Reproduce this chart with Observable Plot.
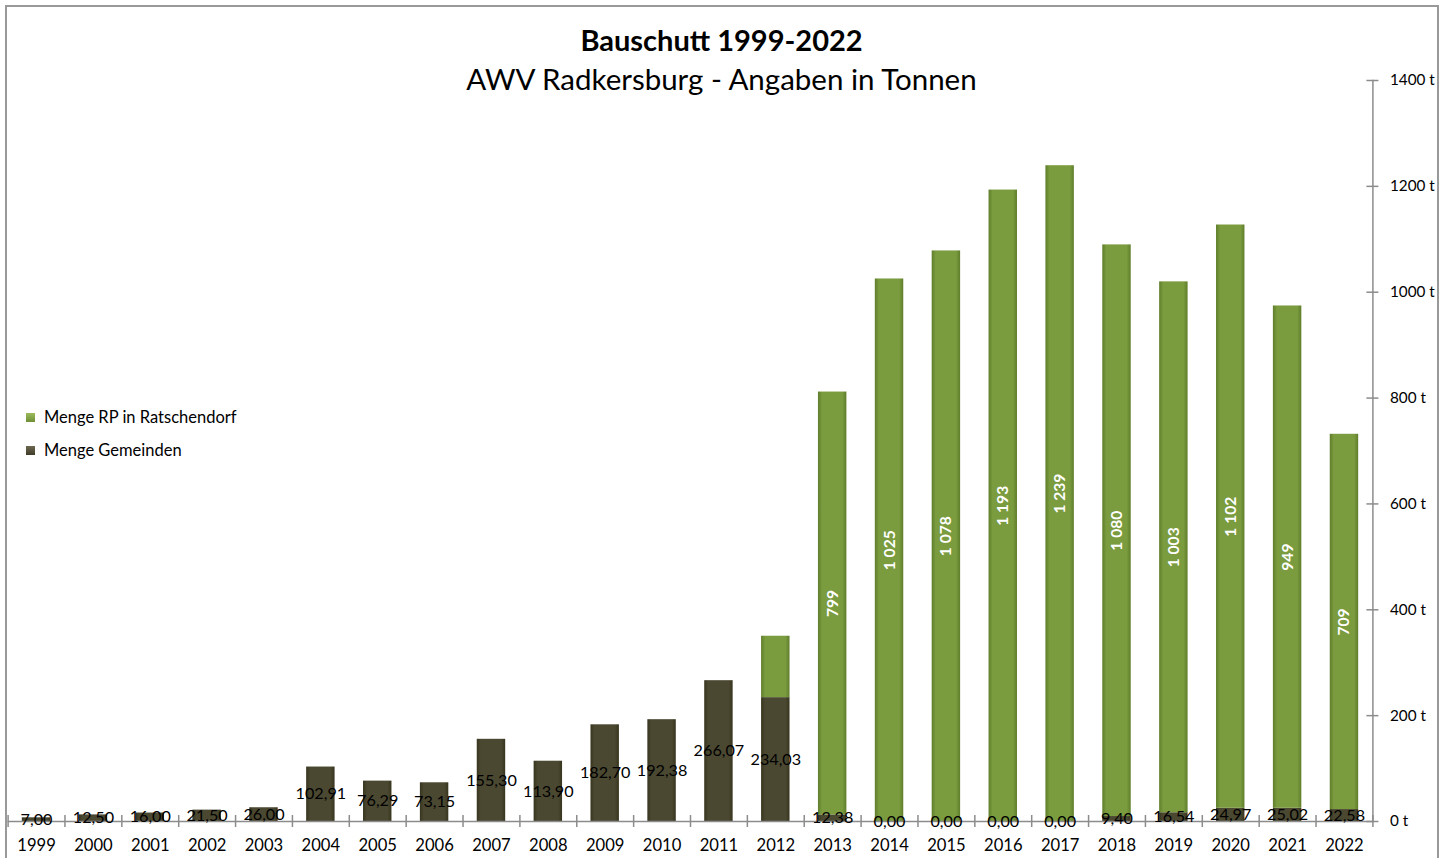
<!DOCTYPE html>
<html><head><meta charset="utf-8">
<script src="https://cdn.jsdelivr.net/npm/d3@7"></script>
<script src="https://cdn.jsdelivr.net/npm/@observablehq/plot@0.6"></script>
<style>
body{margin:0;background:#fff;font-family:Lato,sans-serif;overflow:hidden;}
#frame{position:absolute;left:5px;top:5px;width:1434px;height:880px;border:2px solid #999;box-sizing:border-box;}
#title{position:absolute;left:0;width:1443px;top:22px;text-align:center;font-weight:bold;font-size:29px;color:#000;line-height:36px;}
#subtitle{position:absolute;left:0;width:1443px;top:61px;text-align:center;font-size:29.5px;color:#000;line-height:36px;}
#legend{position:absolute;left:26px;top:406px;font-size:16.5px;color:#000;}
.li{display:flex;align-items:center;}
.sw{width:9px;height:9px;margin-right:9px;}
#chart{position:absolute;left:0;top:0;}
</style></head>
<body>
<div id="frame"></div>
<div id="chart"></div>
<div id="title">Bauschutt 1999-2022</div>
<div id="subtitle">AWV Radkersburg - Angaben in Tonnen</div>
<div id="legend">
  <div class="li" style="height:22px"><div class="sw" style="background:linear-gradient(#9dbb5c,#6f8f36)"></div>Menge RP in Ratschendorf</div>
  <div class="li" style="height:44px"><div class="sw" style="background:linear-gradient(#6d6850,#3f3c28)"></div>Menge Gemeinden</div>
</div>
<script>
const years = [1999,2000,2001,2002,2003,2004,2005,2006,2007,2008,2009,2010,2011,2012,2013,2014,2015,2016,2017,2018,2019,2020,2021,2022];
const gemeinden = [7.00,12.50,16.00,21.50,26.00,102.91,76.29,73.15,155.30,113.90,182.70,192.38,266.07,234.03,12.38,0,0,0,0,9.40,16.54,24.97,25.02,22.58];
const ratschendorf = [0,0,0,0,0,0,0,0,0,0,0,0,0,116,799,1025,1078,1193,1239,1080,1003,1102,949,709];
const rpLabeled = [false,false,false,false,false,false,false,false,false,false,false,false,false,false,true,true,true,true,true,true,true,true,true,true];
const yTicks = [0,200,400,600,800,1000,1200,1400];

const data = years.map((y,i)=>({year:String(y), g:gemeinden[i], r:ratschendorf[i], lab:rpLabeled[i]}));

const W = 1453, H = 858, ML = 7.6, MR = 80.6, MT = 80, MB = 37;
const innerW = W - ML - MR;
const step = innerW / years.length;

const fmtG = v => v.toFixed(2).replace(".", ",");
const fmtR = v => d3.format(",")(Math.round(v)).replace(/,/g, " ");

const font = "Lato, sans-serif";

const chart = Plot.plot({
  width: W, height: H,
  marginLeft: ML, marginRight: MR, marginTop: MT, marginBottom: MB,
  style: {fontFamily: font, background: "transparent", overflow: "visible"},
  x: {domain: years.map(String), paddingInner: 0.5, paddingOuter: 0.25, round: false, axis: null, label: null},
  y: {domain: [0, 1400], axis: null, label: null},
  marks: [
    Plot.barY(data, {x: "year", y1: 0, y2: "g", fill: "url(#gOlive)"}),
    Plot.barY(data.filter(d => d.r > 0), {x: "year", y1: "g", y2: d => d.g + d.r, fill: "url(#gGreen)"}),
    Plot.ruleY([0], {stroke: "#8c8c8c", strokeWidth: 1.5}),
    Plot.frame({anchor: "right", stroke: "#8c8c8c", strokeWidth: 1.5}),
    Plot.ruleX(years.concat([2023]).map(String), {x: d => d === "2023" ? "2022" : d, y1: 0, y2: 0, insetTop: -6, insetBottom: -6, stroke: "#8c8c8c", strokeWidth: 1.5}),
    Plot.ruleY(yTicks, {y: d => d, insetLeft: innerW - 6, insetRight: -6, stroke: "#8c8c8c", strokeWidth: 1.5}),
    Plot.axisY({ticks: yTicks, anchor: "right", tickSize: 0, tickPadding: 17, textAnchor: "start", tickFormat: d => d + " t", fontSize: 15.3, fill: "#000", color: "#000", label: null}),
    Plot.axisX({anchor: "bottom", tickSize: 0, tickPadding: 18, fontSize: 16.6, fill: "#000", color: "#000", label: null}),
    Plot.text(data, {x: "year", y: d => d.g / 2, text: d => fmtG(d.g), fontSize: 16.2, fill: "#000"}),
    Plot.text(data.filter(d => d.lab), {x: "year", y: d => d.g + d.r / 2, text: d => fmtR(d.r), rotate: -90, fontSize: 15.6, fontWeight: "bold", fill: "#fff"})
  ]
});

// Boundary ticks on the x axis: shift each rule by half a band step
chart.querySelectorAll("g[aria-label='rule']").forEach(g => {
  const lines = g.querySelectorAll("line");
  if (lines.length === years.length + 1) {
    lines.forEach((ln, i) => {
      const off = i === years.length ? step / 2 : -step / 2;
      ln.setAttribute("transform", `translate(${off},0)`);
    });
  }
});

const ns = "http://www.w3.org/2000/svg";
const defs = document.createElementNS(ns, "defs");
defs.innerHTML = `
<linearGradient id="gGreen" x1="0" x2="1" y1="0" y2="0">
  <stop offset="0" stop-color="#5f7d2b"/><stop offset="0.14" stop-color="#7a9b3e"/>
  <stop offset="0.86" stop-color="#7a9b3e"/><stop offset="1" stop-color="#5f7d2b"/>
</linearGradient>
<linearGradient id="gOlive" x1="0" x2="1" y1="0" y2="0">
  <stop offset="0" stop-color="#38351f"/><stop offset="0.14" stop-color="#4b4831"/>
  <stop offset="0.86" stop-color="#4b4831"/><stop offset="1" stop-color="#38351f"/>
</linearGradient>`;
chart.insertBefore(defs, chart.firstChild);
document.getElementById("chart").appendChild(chart);
</script>
</body></html>
